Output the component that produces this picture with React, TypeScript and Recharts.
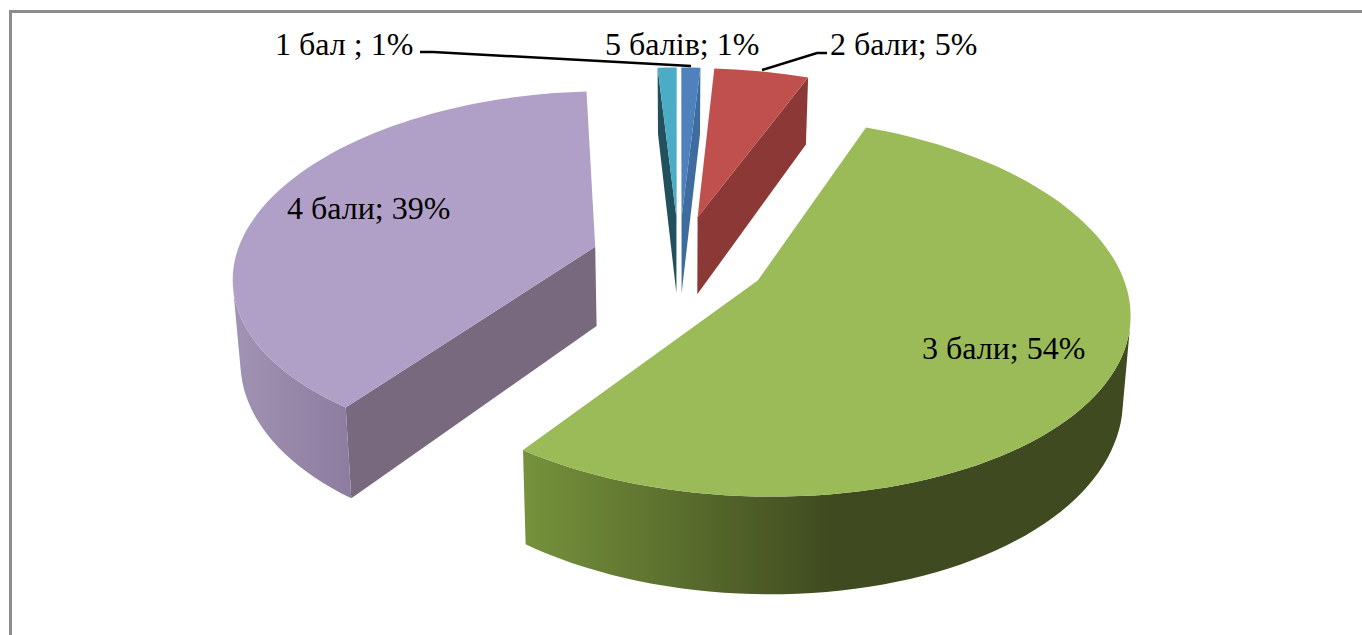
import React from 'react';
import { PieChart, Pie } from 'recharts';

const CATEGORIES = ['5 балів', '2 бали', '3 бали', '4 бали', '1 бал '];
const VALUES = [1, 5, 54, 39, 1];

const FACE_COLORS = ['#4f81bd', '#c0504d', '#9bbb59', '#b09fc6', '#4bacc6'];
const WALL_COLORS = ['#3f6c9f', '#8c3836', '#76923c', '#78697f', '#22505c'];
const RIM_COLORS = [
    ['#3f6c9f', '#3f6c9f'],
    ['#8c3836', '#8c3836'],
    ['#76923c', '#3f4a20'],
    ['#a193b4', '#8d7da0'],
    ['#22505c', '#22505c'],
];

const chartData = CATEGORIES.map((name, i) => ({ name, value: VALUES[i] }));

// 3D look of the exploded pie
const TILT = 0.5;
const PERSPECTIVE = 0.137;
const PERSPECTIVE_X = 0.15;
const EXPLODE = 0.245;
const THICKNESS = 80;
const BASE_SHRINK = 0.983;

type Pt = [number, number];

const toPath = (pts: Pt[]) =>
    'M' + pts.map(p => `${p[0].toFixed(1)},${p[1].toFixed(1)}`).join('L') + 'Z';

// shoelace area, negative when the quad faces the viewer for a clockwise walk
const signedArea = (pts: Pt[]) =>
    pts.reduce((sum, p, i) => {
        const q = pts[(i + 1) % pts.length];
        return sum + p[0] * q[1] - q[0] * p[1];
    }, 0);

function Slice3D(props: any) {
    const { cx, cy, outerRadius, startAngle, endAngle, midAngle, index } = props;
    const rad = (a: number) => ((90 - a) * Math.PI) / 180;
    const x0 = EXPLODE * Math.sin(rad(midAngle));
    const v0 = -EXPLODE * Math.cos(rad(midAngle));

    const top = (x: number, v: number): Pt => {
        const w = 1 - PERSPECTIVE * v;
        const wx = 1 - PERSPECTIVE_X * v;
        return [cx + (outerRadius * x) / wx, cy + (outerRadius * TILT * v) / w];
    };
    const bottom = (x: number, v: number): Pt => {
        const w = 1 - PERSPECTIVE * v;
        const p = top(x, v);
        return [cx + (p[0] - cx) * BASE_SHRINK, p[1] + THICKNESS / Math.pow(w, 1.2)];
    };

    const steps = Math.max(2, Math.ceil(Math.abs(endAngle - startAngle) / 2));
    const rim: Array<[number, number]> = [];
    for (let i = 0; i <= steps; i++) {
        const a = rad(startAngle + ((endAngle - startAngle) * i) / steps);
        rim.push([x0 + Math.sin(a), v0 - Math.cos(a)]);
    }
    const apex: [number, number] = [x0, v0];
    const first = rim[0];
    const last = rim[rim.length - 1];

    const rimTop = rim.map(r => top(r[0], r[1]));
    const rimBottom = rim.map(r => bottom(r[0], r[1]));
    const xs = rimTop.map(p => p[0]);
    const gradId = `rim-${index}`;
    const isGreen = index === 2;
    const gradStart = Math.min(...xs);
    const gradEnd = isGreen ? gradStart + 312 : gradStart + 115;

    const wall = (r: [number, number]): Pt[] => [
        top(apex[0], apex[1]),
        top(r[0], r[1]),
        bottom(r[0], r[1]),
        bottom(apex[0], apex[1]),
    ];
    const startWall = wall(first);
    const endWall = wall(last);

    // outer surface: only the quads turned towards the viewer, in one path so no seams show
    const rimPath = rimTop
        .slice(1)
        .map((p, i): Pt[] => [rimTop[i], p, rimBottom[i + 1], rimBottom[i]])
        .filter(q => signedArea(q) < 0)
        .map(toPath)
        .join('');

    return (
        <g>
            <defs>
                <linearGradient id={gradId} gradientUnits="userSpaceOnUse" x1={gradStart} x2={gradEnd} y1={0} y2={0}>
                    <stop offset="0%" stopColor={RIM_COLORS[index][0]} />
                    <stop offset="100%" stopColor={RIM_COLORS[index][1]} />
                </linearGradient>
            </defs>
            {signedArea(startWall) < 0 && <path d={toPath(startWall)} fill={WALL_COLORS[index]} />}
            {signedArea(endWall) > 0 && <path d={toPath(endWall)} fill={WALL_COLORS[index]} />}
            {rimPath && <path d={rimPath} fill={`url(#${gradId})`} />}
            <path d={toPath([top(apex[0], apex[1]), ...rimTop])} fill={FACE_COLORS[index]} />
        </g>
    );
}

// label anchors and leader lines for each slice, in chart pixels
const LABEL_SPOTS: Array<{ x: number; y: number; leader?: Pt[] }> = [
    { x: 605, y: 55 },
    { x: 830, y: 55, leader: [[827, 53], [817, 53], [762, 70]] },
    { x: 922, y: 359 },
    { x: 287, y: 219 },
    { x: 275, y: 55, leader: [[420, 52], [433, 52], [691, 66]] },
];

function SliceLabel(props: any) {
    const { index, name, value } = props;
    const spot = LABEL_SPOTS[index];
    return (
        <g>
            {spot.leader && (
                <polyline
                    points={spot.leader.map(p => p.join(',')).join(' ')}
                    fill="none"
                    stroke="#000"
                    strokeWidth={2.5}
                />
            )}
            <text x={spot.x} y={spot.y} fontFamily="'Liberation Serif', serif" fontSize={32} fill="#000">
                {`${name}; ${value}%`}
            </text>
        </g>
    );
}

export default function App() {
    return (
        <div style={{ position: 'absolute', left: 0, top: 0, width: 1362, height: 635, overflow: 'hidden', background: '#fff' }}>
            <div
                style={{
                    position: 'absolute',
                    left: 9,
                    top: 10,
                    width: 1400,
                    height: 700,
                    borderTop: '3px solid #8c8c8c',
                    borderLeft: '3px solid #8c8c8c',
                }}
            />
            <div style={{ position: 'absolute', left: 0, top: 0 }}>
                <PieChart width={1362} height={635} margin={{ top: 0, right: 0, bottom: 0, left: 0 }}>
                    <Pie
                        data={chartData}
                        dataKey="value"
                        nameKey="name"
                        cx={679}
                        cy={259}
                        outerRadius={360}
                        startAngle={90}
                        endAngle={-270}
                        stroke="none"
                        isAnimationActive={false}
                        shape={Slice3D}
                        label={SliceLabel}
                        labelLine={false}
                    />
                </PieChart>
            </div>
        </div>
    );
}
